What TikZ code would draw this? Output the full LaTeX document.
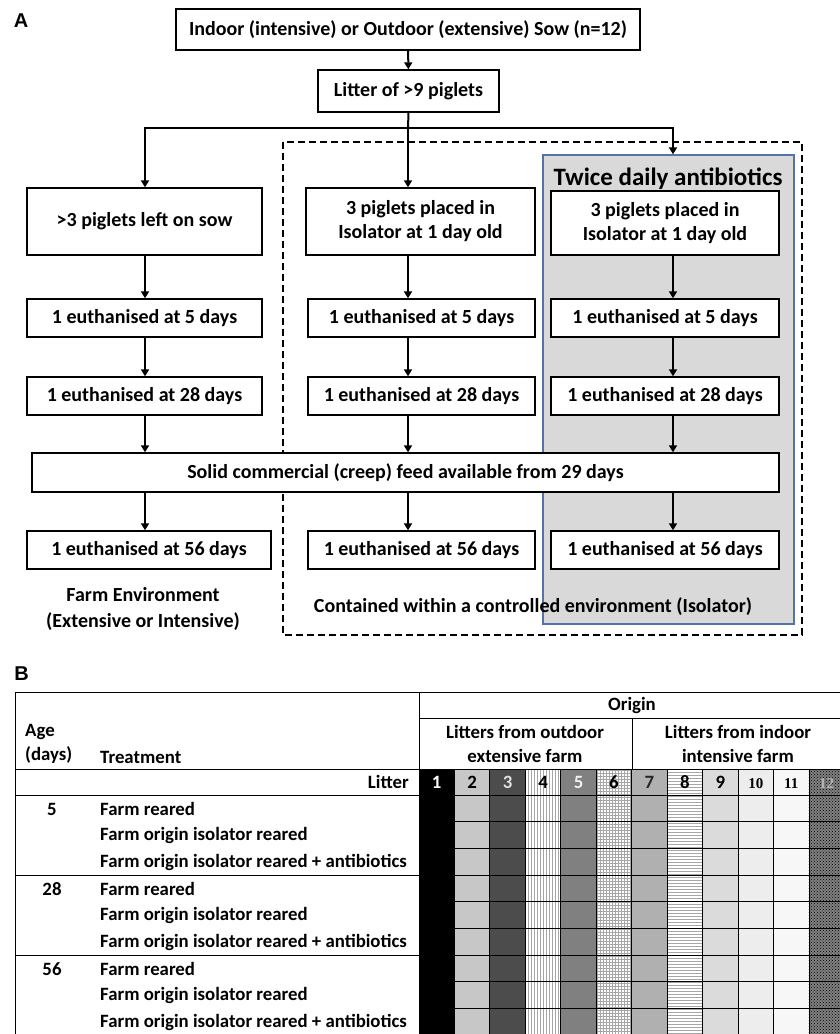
\documentclass[tikz,border=0pt]{standalone}
\usepackage{fontspec}
\setmainfont{Carlito}
\newfontfamily\panelfamily{Liberation Sans}
\newfontfamily\serifnums{Liberation Serif}
\usetikzlibrary{arrows.meta,patterns,positioning}

\definecolor{antiblue}{RGB}{85,115,165}
\definecolor{antigrey}{RGB}{217,217,217}

\newcommand\flowfont{\fontsize{20}{24}\selectfont\bfseries}
\newcommand\tabfont{\fontsize{18.8}{23}\selectfont\bfseries}
\newcommand\numfont{\fontsize{15}{18}\selectfont\serifnums\bfseries}

\tikzset{
  box/.style={draw, line width=1.4pt, fill=white, align=center, inner sep=0pt, font=\flowfont},
  flow/.style={-{Triangle[length=7pt,width=8pt]}, line width=2pt},
  plain/.style={align=center, inner sep=0pt, font=\flowfont},
  panel/.style={inner sep=0pt, font=\fontsize{20}{20}\selectfont\panelfamily\bfseries},
  tabtext/.style={inner sep=0pt, font=\tabfont},
  rule/.style={line width=0.9pt},
  lit1/.style={fill=black},
  lit2/.style={fill=black!22},
  lit3/.style={fill=black!70},
  lit4/.style={preaction={fill=white}, pattern=vertical lines, pattern color=black!35},
  lit5/.style={fill=black!50},
  lit6/.style={preaction={fill=white}, pattern=grid, pattern color=black!35},
  lit7/.style={fill=black!31},
  lit8/.style={preaction={fill=white}, pattern=horizontal lines, pattern color=black!35},
  lit9/.style={fill=black!14},
  lit10/.style={fill=black!7},
  lit11/.style={fill=black!3},
  lit12/.style={preaction={fill=black!50}, pattern=crosshatch dots, pattern color=black},
}

\begin{document}
\begin{tikzpicture}[x=1pt,y=-1pt]
	\useasboundingbox[fill=white] (0,0) rectangle (840,1034);
	
	% A: flow chart
	\node[panel] (labA) at (21,21) {A};
	
	\draw[line width=2pt, dash pattern=on 7pt off 4pt] (283,142) rectangle (802,635);
	\node[draw=antiblue, fill=antigrey, line width=1.3pt, minimum width=251, minimum height=469, inner sep=0pt] (anti) at (668.5,389.5) {};
	\node[plain, font=\fontsize{25}{30}\selectfont\bfseries] (twice) at (668,179) {Twice daily antibiotics};
	
	\node[box, minimum width=464, minimum height=41] (sow) at (408,29.5) {Indoor (intensive) or Outdoor (extensive) Sow (n=12)};
	\node[box, minimum width=181, minimum height=42] (litter) at (408.5,91) {Litter of >9 piglets};
	
	\node[box, minimum width=235, minimum height=67] (l1) at (144.5,221.5) {>3 piglets left on sow};
	\node[box, minimum width=229, minimum height=67] (m1) at (420.5,221.5) {3 piglets placed in\\Isolator at 1 day old};
	\node[box, minimum width=228, minimum height=64] (r1) at (665,223) {3 piglets placed in\\Isolator at 1 day old};
	
	\node[box, minimum width=235, minimum height=38] (l2) at (144.5,318) {1 euthanised at 5 days};
	\node[box, minimum width=227, minimum height=38] (m2) at (421.5,318) {1 euthanised at 5 days};
	\node[box, minimum width=228, minimum height=38] (r2) at (665,318) {1 euthanised at 5 days};
	
	\node[box, minimum width=235, minimum height=38] (l3) at (144.5,396) {1 euthanised at 28 days};
	\node[box, minimum width=227, minimum height=38] (m3) at (421.5,396) {1 euthanised at 28 days};
	\node[box, minimum width=228, minimum height=38] (r3) at (665,396) {1 euthanised at 28 days};
	
	\node[box, minimum width=747, minimum height=39] (feed) at (405.5,472.5) {Solid commercial (creep) feed available from 29 days};
	
	\node[box, minimum width=244, minimum height=38] (l4) at (149,550) {1 euthanised at 56 days};
	\node[box, minimum width=227, minimum height=38] (m4) at (421.5,550) {1 euthanised at 56 days};
	\node[box, minimum width=228, minimum height=38] (r4) at (665,550) {1 euthanised at 56 days};
	
	\node[plain] (farmenv) at (143,609) {Farm Environment\\[2pt](Extensive or Intensive)};
	\node[plain] (contained) at (533,607) {Contained within a controlled environment (Isolator)};
	
	\coordinate (colL) at (145,0);
	\coordinate (colM) at (408,0);
	\coordinate (colR) at (673,0);
	\coordinate (split) at (408,128);
	
	\draw[flow] (sow) -- (litter);
	\draw[line width=2pt] (litter.south) -- (split);
	\draw[flow] (split) -| (l1.north -| colL);
	\draw[flow] (split) -- (m1.north -| colM);
	\draw[flow] (split) -| (anti.north -| colR);
	
	\foreach \c/\a/\b in {colL/l1/l2, colL/l2/l3, colL/l3/feed, colL/feed/l4,
		colM/m1/m2, colM/m2/m3, colM/m3/feed, colM/feed/m4,
		colR/r1/r2, colR/r2/r3, colR/r3/feed, colR/feed/r4}
	\draw[flow] (\a.south -| \c) -- (\b.north -| \c);
	
	% B: table
	\node[panel] (labB) at (21.5,674) {B};
	
	\foreach \k in {1,...,12}
	\path[lit\k] ({419+35.45*(\k-1)},769) rectangle ({419+35.45*\k},1040);
	
	\foreach \k in {0,...,12}
	\draw[rule] ({419+35.45*\k},769) -- ({419+35.45*\k},1040);
	\foreach \r in {0,...,9}
	\draw[rule] (419,{795+26.67*\r}) -- (845,{795+26.67*\r});
	
	\draw[rule] (15,1040) -- (15,692) -- (845,692);
	\draw[rule] (419,692) -- (419,1040);
	\draw[rule] (419,718) -- (845,718);
	\draw[rule] (632,718) -- (632,769);
	\foreach \y in {769,795,875,955}
	\draw[rule] (15,\y) -- (845,\y);
	
	\node[tabtext] (origin) at (632,705) {Origin};
	\node[tabtext, align=center] (outdoor) at (525,744) {Litters from outdoor\\[1pt]extensive farm};
	\node[tabtext, align=center] (indoor) at (738,744) {Litters from indoor\\[1pt]intensive farm};
	\node[tabtext, align=left, anchor=west] (age) at (25,744) {Age\\[1pt](days)};
	\node[tabtext, anchor=west] (treat) at (100,757) {Treatment};
	\node[tabtext, anchor=east] (littername) at (409,782) {Litter};
	
	\foreach \k/\c in {1/white, 2/black, 3/black!12, 4/black, 5/black!6, 6/black, 7/black!85, 8/black, 9/black}
	\node[tabtext, text=\c] (num\k) at ({419+35.45*(\k-0.5)},782) {\k};
	\foreach \k/\c in {10/black, 11/black, 12/black!30}
	\node[inner sep=0pt, font=\numfont, text=\c] (num\k) at ({419+35.45*(\k-0.5)},784) {\k};
	
	\foreach \g/\age in {0/5, 1/28, 2/56} {
		\node[tabtext] (age\age) at (52,{809+80*\g}) {\age};
		\foreach \j/\treat in {0/Farm reared, 1/Farm origin isolator reared, 2/Farm origin isolator reared + antibiotics}
		\node[tabtext, anchor=west] (t\age\j) at (100,{809+80*\g+26.67*\j}) {\treat};
	}
\end{tikzpicture}
\end{document}
